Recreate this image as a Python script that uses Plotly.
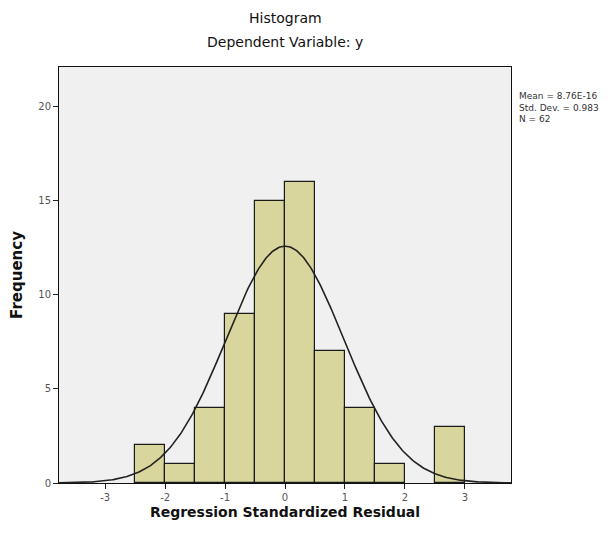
import numpy as np
import plotly.graph_objects as go

bin_left = [-2.5, -2.0, -1.5, -1.0, -0.5, 0.0, 0.5, 1.0, 1.5, 2.5]
counts = [2, 1, 4, 9, 15, 16, 7, 4, 1, 3]
bin_width = 0.5
mean_val = 8.76e-16
std_val = 0.983
n_obs = 62
x_ticks = [-3, -2, -1, 0, 1, 2, 3]
y_ticks = [0, 5, 10, 15, 20]
stats_lines = ["Mean = 8.76E-16", "Std. Dev. = 0.983", "N = 62"]

centers = [b + bin_width / 2 for b in bin_left]
xs = np.linspace(-3.77, 3.77, 400)
ys = n_obs * bin_width / (std_val * np.sqrt(2 * np.pi)) * np.exp(-0.5 * ((xs - mean_val) / std_val) ** 2)

fig = go.Figure()
fig.add_trace(go.Bar(x=centers, y=counts, width=bin_width,
                     marker=dict(color="#d8d69c", line=dict(color="#1a1a1a", width=1.2)),
                     showlegend=False))
fig.add_trace(go.Scatter(x=xs, y=ys, mode="lines", line=dict(color="#222222", width=1.6),
                         showlegend=False))

font_fam = "DejaVu Sans, Arial, sans-serif"
annots = [
    dict(text="Histogram", x=0.5, y=1, xref="paper", yref="paper", yanchor="bottom", yshift=39,
         showarrow=False, font=dict(size=14, color="#111")),
    dict(text="Dependent Variable: y", x=0.5, y=1, xref="paper", yref="paper", yanchor="bottom",
         yshift=15, showarrow=False, font=dict(size=14, color="#111")),
    dict(text="<br>".join(stats_lines), xref="paper", yref="paper", x=1, y=1, xanchor="left",
         yanchor="top", align="left", xshift=6, yshift=-22, showarrow=False,
         font=dict(size=9, color="#333")),
]

fig.update_layout(
    width=605, height=526,
    margin=dict(l=51, r=102, t=59, b=51),
    paper_bgcolor="white", plot_bgcolor="#f0f0f0",
    font=dict(family=font_fam, color="#222"),
    bargap=0,
    annotations=annots,
)

fig.update_xaxes(range=[-3.77, 3.77], tickvals=x_ticks, ticktext=[str(v) for v in x_ticks],
                 ticks="outside", ticklen=5,
                 tickcolor="#222", showgrid=False, zeroline=False, automargin=False,
                 showline=True, linecolor="#111", linewidth=1, mirror=True,
                 tickfont=dict(size=10, color="#555"),
                 title=dict(text="<b>Regression Standardized Residual</b>",
                            font=dict(size=14, color="#111"), standoff=5))
fig.update_yaxes(range=[0, 22.1], tickvals=y_ticks, ticks="outside", ticklen=5,
                 tickcolor="#222", showgrid=False, zeroline=False, automargin=False,
                 showline=True, linecolor="#111", linewidth=1, mirror=True,
                 tickfont=dict(size=10, color="#555"),
                 title=dict(text="<b>Frequency</b>", font=dict(size=15, color="#111"), standoff=12))

fig.write_html("out.html")
